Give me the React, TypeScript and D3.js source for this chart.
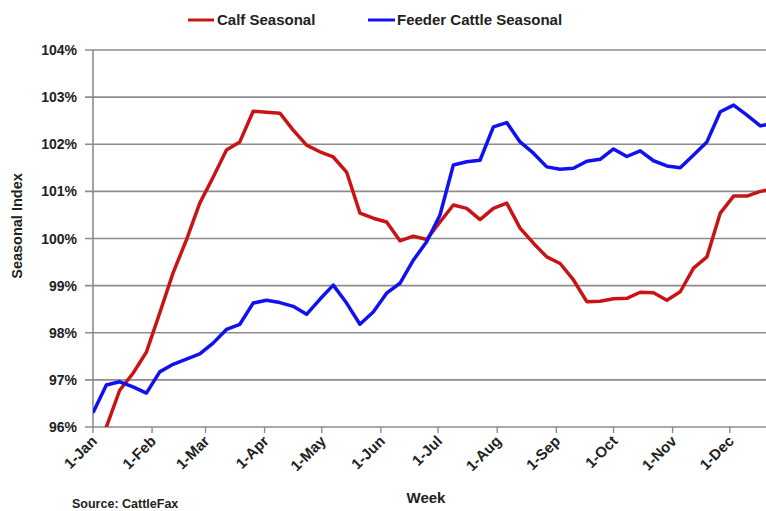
import React from 'react'
import * as d3 from 'd3'

// weekly seasonal index, %
const calfSeasonal = [
  95.6, 96.0, 96.78, 97.14, 97.59, 98.42, 99.27, 99.97, 100.75, 101.3,
  101.88, 102.05, 102.7, 102.68, 102.66, 102.3, 101.98, 101.84, 101.73, 101.41,
  100.54, 100.43, 100.35, 99.95, 100.05, 99.98, 100.35, 100.71, 100.64, 100.4,
  100.64, 100.75, 100.22, 99.9, 99.61, 99.47, 99.12, 98.66, 98.67, 98.72,
  98.73, 98.86, 98.85, 98.69, 98.87, 99.37, 99.61, 100.54, 100.9, 100.9,
  101.0, 101.05,
]
const feederSeasonal = [
  96.3, 96.89, 96.96, 96.85, 96.72, 97.17, 97.33, 97.44, 97.55, 97.78,
  98.07, 98.18, 98.63, 98.69, 98.64, 98.56, 98.39, 98.71, 99.01, 98.63,
  98.18, 98.44, 98.84, 99.05, 99.54, 99.93, 100.5, 101.56, 101.63, 101.66,
  102.37, 102.46, 102.05, 101.81, 101.52, 101.47, 101.49, 101.64, 101.68, 101.9,
  101.74, 101.86, 101.65, 101.54, 101.5, 101.77, 102.05, 102.69, 102.83, 102.62,
  102.39, 102.45,
]
const monthLabels = ['1-Jan', '1-Feb', '1-Mar', '1-Apr', '1-May', '1-Jun', '1-Jul', '1-Aug', '1-Sep', '1-Oct', '1-Nov', '1-Dec']
const yTicks = [96, 97, 98, 99, 100, 101, 102, 103, 104]
const seriesNames = ['Calf Seasonal', 'Feeder Cattle Seasonal']
const seriesColors = ['#c81414', '#1010f0']

const font = '"Liberation Sans", Arial, sans-serif'

const App = () => {
  const width = 766
  const height = 511
  const left = 93
  const top = 50
  const bottom = 427

  const start = new Date(2013, 0, 1)
  const end = new Date(2013, 11, 31)
  const x = d3.scaleTime().domain([start, end]).range([left, 787])
  const y = d3.scaleLinear().domain([96, 104]).range([bottom, top])

  const weekDate = (i: number) => d3.timeDay.offset(start, i * 7)
  const months = d3.timeMonth.range(start, end)

  const line = d3
    .line<number>()
    .x((d, i) => x(weekDate(i)))
    .y((d) => y(d))

  const series = [calfSeasonal, feederSeasonal]

  return (
    <svg width={width} height={height} style={{ position: 'absolute', left: 0, top: 0, background: '#fff' }} fontFamily={font}>
      <defs>
        <clipPath id="plot">
          <rect x={left} y={top - 5} width={width - left} height={bottom - top + 5} />
        </clipPath>
      </defs>

      {/* legend */}
      <g fontWeight="bold" fontSize={15} fill="#222">
        <line x1={188} x2={214} y1={20} y2={20} stroke={seriesColors[0]} strokeWidth={3} />
        <text x={217} y={25}>{seriesNames[0]}</text>
        <line x1={368} x2={395} y1={20} y2={20} stroke={seriesColors[1]} strokeWidth={3} />
        <text x={397} y={25}>{seriesNames[1]}</text>
      </g>

      {/* grid + y axis */}
      {yTicks.map((t) => (
        <g key={t}>
          <line x1={left - 8} x2={787} y1={y(t)} y2={y(t)} stroke="#8c8c8c" strokeWidth={1.6} />
          <text x={77} y={y(t) + 5} textAnchor="end" fontWeight="bold" fontSize={14} fill="#222">
            {t}%
          </text>
        </g>
      ))}
      <line x1={left} x2={left} y1={top} y2={bottom} stroke="#8c8c8c" strokeWidth={1.6} />

      {/* x axis ticks and labels */}
      {months.map((m, i) => (
        <g key={i} transform={`translate(${x(m)},${bottom})`}>
          <line y1={0} y2={6} stroke="#8c8c8c" strokeWidth={1.4} />
          <text
            transform="translate(5,15) rotate(-45)"
            textAnchor="end"
            fontWeight="bold"
            fontSize={15}
            fill="#222"
          >
            {monthLabels[i]}
          </text>
        </g>
      ))}

      {/* lines */}
      <g clipPath="url(#plot)">
        {series.map((s, i) => (
          <path key={i} d={line(s) ?? ''} fill="none" stroke={seriesColors[i]} strokeWidth={3.5} strokeLinejoin="round" />
        ))}
      </g>

      {/* titles */}
      <text
        transform={`translate(22,226) rotate(-90)`}
        textAnchor="middle"
        fontWeight="bold"
        fontSize={14.5}
        fill="#222"
      >
        Seasonal Index
      </text>
      <text x={426} y={503} textAnchor="middle" fontWeight="bold" fontSize={15} fill="#222">
        Week
      </text>
      <text x={72} y={508} fontWeight="bold" fontSize={12.5} fill="#222">
        Source: CattleFax
      </text>
    </svg>
  )
}

export default App
